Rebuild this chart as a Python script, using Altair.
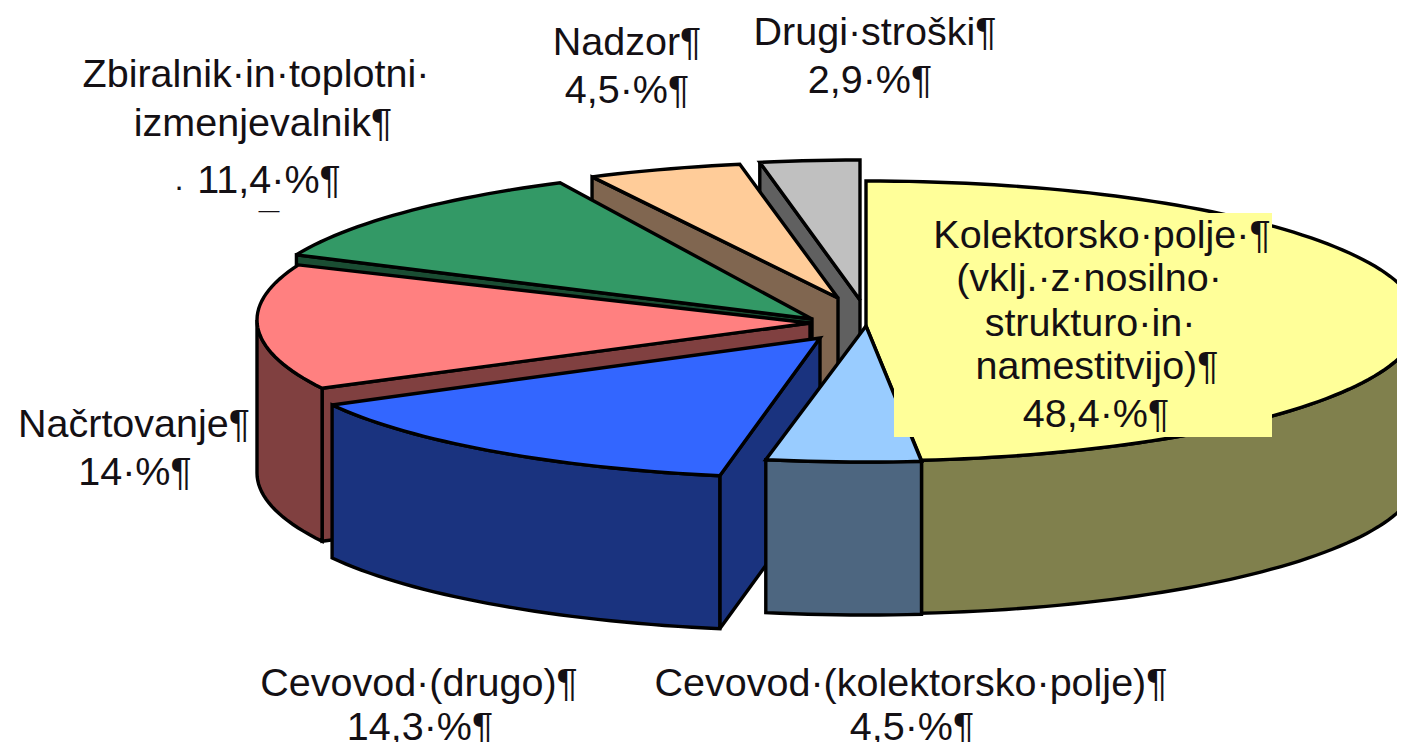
import math
import altair as alt

# ---- chart values
categories = ["Kolektorsko polje", "Cevovod (kolektorsko polje)", "Cevovod (drugo)",
              "Načrtovanje", "Zbiralnik in toplotni izmenjevalnik", "Nadzor", "Drugi stroški"]
shares = [48.4, 4.5, 14.3, 14.0, 11.4, 4.5, 2.9]
top_colors = ["#FFFF99", "#99CCFF", "#3366FF", "#FF8080", "#339966", "#FFCC99", "#C0C0C0"]
side_colors = ["#80804D", "#4D6680", "#1A337F", "#804040", "#1A4D33", "#806650", "#606060"]
label_lines = [
    "Kolektorsko·polje·¶", "(vklj.·z·nosilno·", "strukturo·in·", "namestitvijo)¶", "48,4·%¶",
    "Cevovod·(kolektorsko·polje)¶", "4,5·%¶",
    "Cevovod·(drugo)¶", "14,3·%¶",
    "Načrtovanje¶", "14·%¶",
    "Zbiralnik·in·toplotni·", "izmenjevalnik¶", "11,4·%¶",
    "Nadzor¶", "4,5·%¶",
    "Drugi·stroški¶", "2,9·%¶",
]

# ---- layout (page pixels)
label_x = [1102, 1089, 1090, 1097, 1096, 911, 912, 419, 420, 134, 135, 256, 263, 269, 627, 627, 875, 870]
label_y = [248, 291, 336, 379, 427, 696, 740, 696, 740, 437, 485, 87, 136, 193, 55, 103, 45, 93]
apex = [(866, 326), (866, 326), (820, 338), (810, 323), (812, 319), (838, 298), (860, 300)]
rim = [(866, 321, 140), (866, 323, 139), (820, 340, 138), (810, 320, 145), (808, 308, 140), (840, 302, 140), (860, 300, 140)]
RX = 553
DEPTH = 153
WIDTH, HEIGHT = 1389, 734


def rim_pt(i, t, dy=0):
    cx, cy, b = rim[i]
    r = math.radians(t)
    return [cx + RX * math.sin(r), cy - b * math.cos(r) + dy]


def arc(i, t0, t1, dy=0):
    n = max(2, int(abs(t1 - t0) / 1.5) + 1)
    return [rim_pt(i, t0 + (t1 - t0) * k / n, dy) for k in range(n + 1)]


def poly(points, fill):
    ring = [list(p) for p in points]
    ring.append(ring[0])
    return {"type": "Feature", "fill": fill, "properties": {},
            "geometry": {"type": "Polygon", "coordinates": [ring]}}


# cumulative angles, clockwise from the top
edges = [0.0]
for s in shares:
    edges.append(edges[-1] + s * 3.6)

features = []
for i in [6, 5, 4, 3, 2, 0, 1]:
    a0, a1 = edges[i], edges[i + 1]
    ax, ay = apex[i]
    if a0 >= 180:
        p = rim_pt(i, a0)
        features.append(poly([[ax, ay], p, [p[0], p[1] + DEPTH], [ax, ay + DEPTH]], side_colors[i]))
    s0, s1 = max(a0, 90), min(a1, 270)
    if s1 > s0:
        features.append(poly(arc(i, s0, s1) + arc(i, s1, s0, DEPTH), side_colors[i]))
    features.append(poly([[ax, ay]] + arc(i, a0, a1), top_colors[i]))

box = [poly([[894, 213], [1272, 213], [1272, 437], [894, 437]], top_colors[0])]

PROJ = dict(type="identity", scale=1, translate=[-8, -8])

slices = alt.Chart(alt.InlineData(values=features)).mark_geoshape(
    stroke="#000000", strokeWidth=3.4, strokeJoin="miter", strokeMiterLimit=3
).encode(fill=alt.Fill("fill:N", scale=None)).project(**PROJ)

box_layer = alt.Chart(alt.InlineData(values=box)).mark_geoshape(strokeWidth=0).encode(
    fill=alt.Fill("fill:N", scale=None)
).project(**PROJ)

xs = alt.Scale(domain=[8, 8 + WIDTH], range=[0, WIDTH])
ys = alt.Scale(domain=[8, 8 + HEIGHT], range=[0, HEIGHT])

rows = [{"t": t, "x": x, "y": y} for t, x, y in zip(label_lines, label_x, label_y)]
text = alt.Chart(alt.InlineData(values=rows)).mark_text(
    font="Liberation Sans", fontSize=39.5, align="center", baseline="alphabetic", color="#141014"
).encode(x=alt.X("x:Q", scale=xs, axis=None), y=alt.Y("y:Q", scale=ys, axis=None), text="t:N")

scraps = alt.Chart(alt.InlineData(values=[
    {"t": "·", "x": 179, "y": 197, "s": 32},
    {"t": "—", "x": 269, "y": 217, "s": 21},
])).mark_text(font="Liberation Sans", align="center", baseline="alphabetic", color="#141014").encode(
    x=alt.X("x:Q", scale=xs, axis=None), y=alt.Y("y:Q", scale=ys, axis=None),
    text="t:N", size=alt.Size("s:Q", scale=None, legend=None))

chart = alt.layer(slices, box_layer, text, scraps).properties(
    width=WIDTH, height=HEIGHT, padding=0,
    autosize=alt.AutoSizeParams(type="none"),
    background="#FFFFFF",
).resolve_scale(x="shared", y="shared").configure_view(stroke=None)

chart.save("out.html", embed_options={"renderer": "svg", "actions": False})
